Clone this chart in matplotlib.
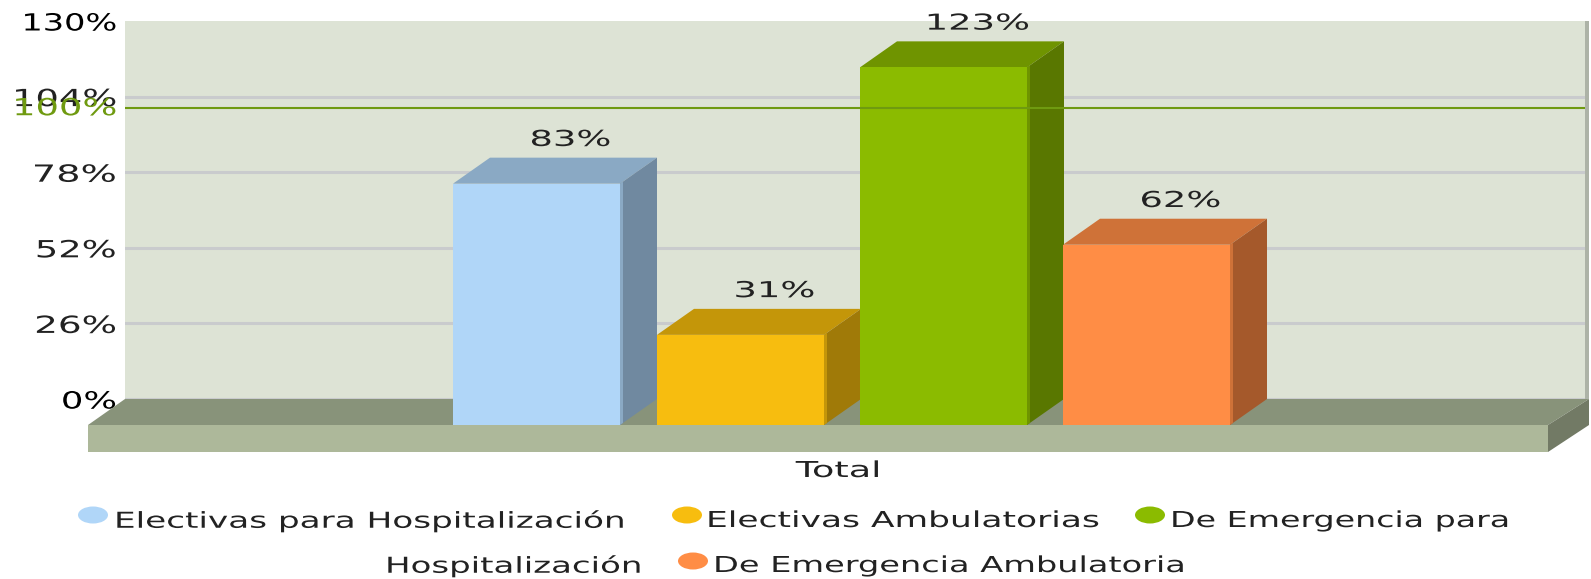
import matplotlib
matplotlib.use('Agg')
import matplotlib.pyplot as plt
from matplotlib.patches import Ellipse
from matplotlib.patheffects import AbstractPathEffect
from matplotlib.transforms import Affine2D

categories = ['Electivas para Hospitalización', 'Electivas Ambulatorias',
              'De Emergencia para Hospitalización', 'De Emergencia Ambulatoria']
values = [83, 31, 123, 62]
value_labels = ['83%', '31%', '123%', '62%']
y_ticks = [0, 26, 52, 78, 104, 130]
y_tick_labels = ['0%', '26%', '52%', '78%', '104%', '130%']
target = 100
group_label = 'Total'

front_colors = ['#b0d6f8', '#f7bd0f', '#8bbb00', '#ff8d45']
top_colors = ['#8aa9c4', '#c49609', '#6f9400', '#cf7238']
side_colors = ['#7089a0', '#a07a08', '#597700', '#a5592b']

W, H = 1591, 579
LEFT, RIGHT, TOP, BOTTOM = 125, 1585, 21, 399
PX_PER_PCT = (BOTTOM - TOP) / 130
DX, DY_PX = 37, 26
DY = DY_PX / PX_PER_PCT
BAR_W = 167
BAR_X = [453, 657, 860, 1063]
TXT = '#222222'


class Stretch(AbstractPathEffect):
    # the source chart was an image blown up sideways, so widen the glyphs
    def __init__(self, anchor, sx):
        super().__init__()
        self.anchor, self.sx = anchor, sx

    def draw_path(self, renderer, gc, tpath, affine, rgbFace=None):
        t = affine + Affine2D().translate(-self.anchor, 0).scale(self.sx, 1).translate(self.anchor, 0)
        renderer.draw_path(gc, tpath, t, rgbFace)


fig = plt.figure(figsize=(W / 100, H / 100), dpi=100, facecolor='white')
ax = fig.add_axes([LEFT / W, 1 - BOTTOM / H, (RIGHT - LEFT) / W, (BOTTOM - TOP) / H])
ax.set_xlim(LEFT, RIGHT)
ax.set_ylim(0, 130)
ax.set_facecolor('#dde3d5')
for s in ax.spines.values():
    s.set_visible(False)
ax.set_xticks([])
ax.set_yticks(y_ticks)
ax.set_yticklabels(y_tick_labels, fontsize=17, color=TXT)
ax.tick_params(axis='y', length=0, pad=5.8)
ax.yaxis.grid(True, color='#c9cbcd', lw=2.2, zorder=1)
ax.set_axisbelow(True)
ax.get_ygridlines()[-1].set_visible(False)
tick_stretch = [1.5, 1.58, 1.56, 1.62, 1.56, 1.42]
for lab, sx in zip(ax.get_yticklabels(), tick_stretch):
    lab.set_path_effects([Stretch(117, sx)])
ax.get_yticklabels()[0].set_color('black')
ax.get_yticklabels()[-1].set_color('black')


def ptext(x, y, s, size=15.8, sx=1.53, color=TXT, ha='left'):
    return ax.text(x, y, s, fontsize=size, color=color, ha=ha, va='center', clip_on=False,
                   path_effects=[Stretch(x, sx)])


def py(px):
    # figure pixel row to axis value, for things placed outside the plot
    return (BOTTOM - px) / PX_PER_PCT


# wall edge and floor
floor_bottom = py(452)
ax.fill([RIGHT, RIGHT + 4, RIGHT + 4, RIGHT], [0, 0, 130, 130], color='#adb3a7', clip_on=False, lw=0, zorder=1)
ax.fill([LEFT, 1589, 1548, 88], [0, 0, -DY, -DY], color='#88937a', clip_on=False, lw=0, zorder=2)
ax.fill([88, 1548, 1548, 88], [-DY, -DY, floor_bottom, floor_bottom], color='#adb89a', clip_on=False, lw=0, zorder=2)
ax.fill([1548, 1589, 1589, 1548], [-DY, 0, -DY, floor_bottom], color='#727a65', clip_on=False, lw=0, zorder=2)

ax.axhline(target, xmax=1, color='#6f9a10', lw=1.5, zorder=9)
ptext(117, target, '100%', size=17, sx=1.56, color='#6f9a10', ha='right')

# bars, drawn left to right so each hides the side of the one before
for i, (x, v) in enumerate(zip(BAR_X, values)):
    z = 3 + i
    ax.bar(x, v, BAR_W, bottom=-DY, align='edge', color=front_colors[i], lw=0, clip_on=False, zorder=z + 0.2)
    ax.fill([x, x + BAR_W, x + BAR_W + DX, x + DX], [v - DY, v - DY, v, v],
            color=top_colors[i], lw=0, clip_on=False, zorder=z)
    ax.fill([x + BAR_W, x + BAR_W + DX, x + BAR_W + DX, x + BAR_W], [-DY, 0, v, v - DY],
            color=side_colors[i], lw=0, clip_on=False, zorder=z)
    # lighter sliver where the front meets the side
    ax.fill([x + BAR_W, x + BAR_W + 3, x + BAR_W + 3, x + BAR_W], [-DY, -DY + 0.7, v - DY + 0.7, v - DY],
            color=top_colors[i], lw=0, clip_on=False, zorder=z + 0.1)
    ptext(x + BAR_W / 2 + 34, v + 6.1, value_labels[i], sx=1.68, ha='center').set_zorder(10)

ptext(839, py(471), group_label, sx=1.67, ha='center')

# legend, placed by hand because the original breaks one entry over two rows
legend_marks = [(93, 515), (687, 515), (1150, 515), (693, 561)]
for (mx, my), c in zip(legend_marks, front_colors):
    ax.add_patch(Ellipse((mx, py(my)), 30, 17 / PX_PER_PCT, color=c, lw=0, clip_on=False))
ptext(114, py(521), categories[0], sx=1.56)
ptext(706, py(521), categories[1], sx=1.57)
ptext(1170, py(521), 'De Emergencia para', sx=1.515)
ptext(385, py(566), 'Hospitalización', sx=1.55)
ptext(713, py(566), categories[3])

fig.savefig('out.png', dpi=100)
